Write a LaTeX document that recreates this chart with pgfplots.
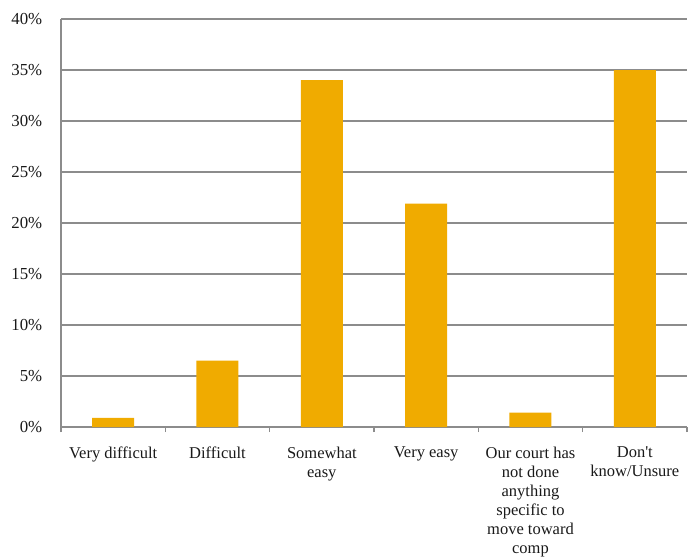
\documentclass[border=0pt]{standalone}
\usepackage{fontspec}
\setmainfont{Liberation Serif}
\usepackage{pgfplots}
\pgfplotsset{compat=1.18}
\definecolor{barc}{HTML}{F0AB00}
\definecolor{gridc}{HTML}{8C8C8C}
\begin{document}
\begin{tikzpicture}
\begin{axis}[
  at={(0,0)}, anchor=south west,
  scale only axis, width=626pt, height=408pt,
  xmin=0.5, xmax=6.5, ymin=0, ymax=40,
  axis x line*=bottom, axis y line*=left,
  axis line style={gridc, line width=1.2pt},
  ytick={0,5,...,40},
  ymajorgrids, grid style={gridc, line width=1.2pt},
  ytick style={draw=none},
  yticklabel={\pgfmathprintnumber{\tick}\%},
  /pgf/number format/assume math mode=true,
  yticklabel style={font=\fontsize{16.8}{19}\selectfont, text=black!90, xshift=-11pt},
  xtick={1,...,6},
  xticklabels={Very difficult, Difficult, Somewhat\\easy, Very easy,
    Our court has\\not done\\anything\\specific to\\move toward\\comp,
    Don\textquotesingle t\\know/Unsure},
  xticklabel style={font=\fontsize{16.5}{19.1}\selectfont, align=center, anchor=north, yshift=-12pt, text=black!90},
  major x tick style={draw=none},
  minor xtick={0.5,1.5,...,6.5},
  minor x tick style={gridc, line width=1.2pt},
  minor tick length=5pt,
  tick align=outside,
  clip=false,
]
\addplot[ybar, bar width=42pt, fill=barc, draw=none] coordinates {
  (1,0.9) (2,6.5) (3,34.0) (4,21.9) (5,1.4) (6,35.0)
};
\end{axis}
\pgfresetboundingbox
\path[use as bounding box] (-61pt,-131pt) rectangle (627pt,427pt);
\end{tikzpicture}
\end{document}
